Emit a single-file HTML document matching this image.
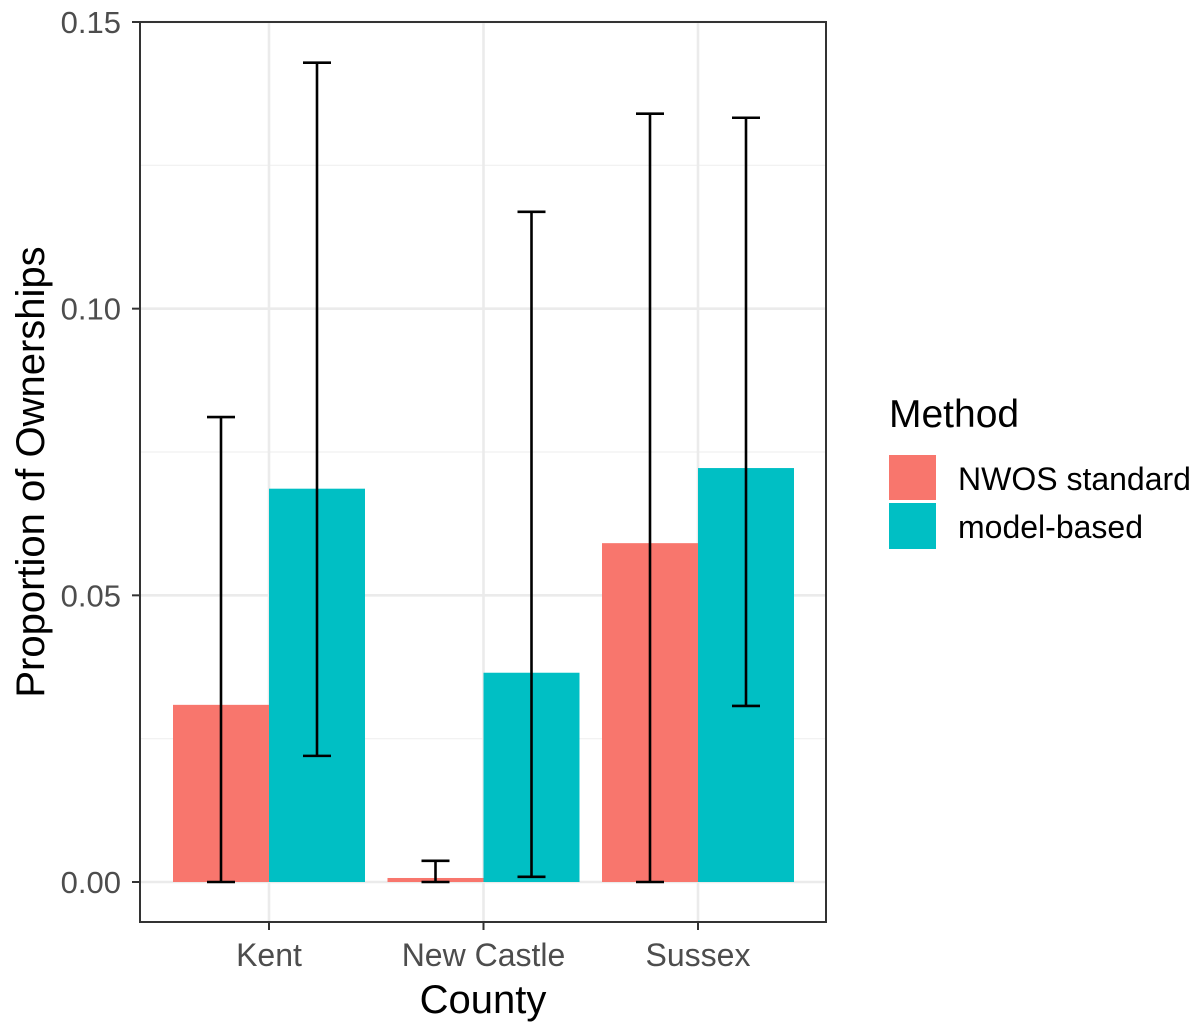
<!DOCTYPE html>
<html><head><meta charset="utf-8"><style>
body{margin:0;background:#fff;font-family:"Liberation Sans",sans-serif}
</style></head><body>
<svg id="chart" width="1200" height="1023" xmlns="http://www.w3.org/2000/svg" font-family="Liberation Sans, sans-serif">
<g id="grid"></g>
<g id="bars"></g>
<g id="errs"></g>
<rect x="140" y="22" width="686" height="900" fill="none" stroke="#333" stroke-width="2"/>
<g id="axes"></g>
<text transform="translate(44,472) rotate(-90)" text-anchor="middle" font-size="40" fill="#000">Proportion of Ownerships</text>
<text x="483" y="1013" text-anchor="middle" font-size="40" fill="#000">County</text>
<g>
<text x="889" y="427" font-size="39" fill="#000">Method</text>
<rect x="889" y="455" width="47" height="45" fill="#F8766D"/>
<rect x="889" y="503" width="47" height="46" fill="#00BFC4"/>
<text x="958" y="490" font-size="32" fill="#000">NWOS standard</text>
<text x="958" y="538" font-size="32" fill="#000">model-based</text>
</g>
</svg>
<script>
const categories=["Kent","New Castle","Sussex"];
const nwos=[0.0309,0.0007,0.0591];
const nwosLo=[0.0,0.0,0.0];
const nwosHi=[0.0811,0.0037,0.134];
const model=[0.0686,0.0365,0.0722];
const modelLo=[0.022,0.0009,0.0307];
const modelHi=[0.1429,0.1169,0.1333];
const yTicks=[0,0.05,0.10,0.15];
const yTickLabels=["0.00","0.05","0.10","0.15"];
const yMinor=[0.025,0.075,0.125];
const NS="http://www.w3.org/2000/svg";
const y=v=>882-v*(860/0.15);
const x=i=>269+i*214.5;
const bw=96;
function mk(tag,attrs,parent){const e=document.createElementNS(NS,tag);for(const k in attrs)e.setAttribute(k,attrs[k]);document.getElementById(parent).appendChild(e);return e;}
yMinor.forEach(v=>{const l=mk('line',{x1:140,x2:826,y1:y(v),y2:y(v),stroke:'#f0f0f0','stroke-width':1.2},'grid');});
yTicks.forEach((v,i)=>{const l=mk('line',{x1:140,x2:826,y1:y(v),y2:y(v),stroke:'#ebebeb','stroke-width':2.6},'grid');
const t=mk('line',{x1:132,x2:140,y1:y(v),y2:y(v),stroke:'#333','stroke-width':2},'axes');
const tx=mk('text',{x:121,y:y(v)+11,'text-anchor':'end','font-size':31,fill:'#4d4d4d'},'axes');tx.textContent=yTickLabels[i];});
categories.forEach((c,i)=>{const l=mk('line',{x1:x(i),x2:x(i),y1:22,y2:922,stroke:'#ebebeb','stroke-width':2.6},'grid');
const t=mk('line',{x1:x(i),x2:x(i),y1:922,y2:930,stroke:'#333','stroke-width':2},'axes');
const tx=mk('text',{x:x(i),y:966,'text-anchor':'middle','font-size':32,fill:'#4d4d4d'},'axes');tx.textContent=c;
[[nwos,nwosLo,nwosHi,'#F8766D',-bw,'nwos'],[model,modelLo,modelHi,'#00BFC4',0,'model']].forEach(s=>{
const b=mk('rect',{x:x(i)+s[4],y:y(s[0][i]),width:bw,height:y(0)-y(s[0][i]),fill:s[3]},'bars');
const cx=x(i)+s[4]+bw/2,lo=y(s[1][i]),hi=y(s[2][i]);
const g=mk('g',{stroke:'#000','stroke-width':2.6},'errs');
[[cx,cx,lo,hi],[cx-14,cx+14,lo,lo],[cx-14,cx+14,hi,hi]].forEach(p=>{const e=document.createElementNS(NS,'line');e.setAttribute('x1',p[0]);e.setAttribute('x2',p[1]);e.setAttribute('y1',p[2]);e.setAttribute('y2',p[3]);g.appendChild(e);});
});});
</script>
</body></html>
